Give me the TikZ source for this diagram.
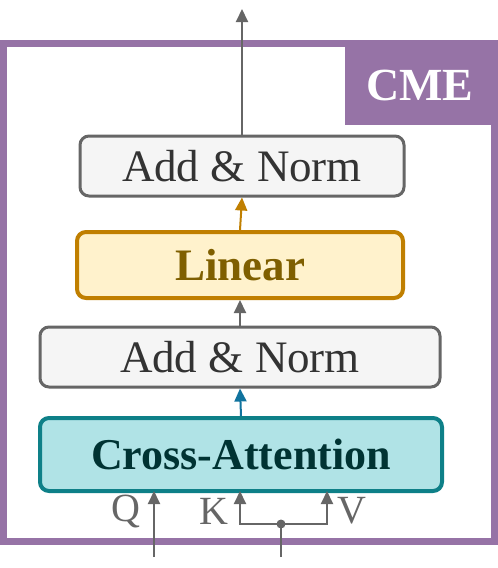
\documentclass[tikz,border=0pt]{standalone}
\usepackage{fontspec}
\setmainfont{Liberation Serif}
\usetikzlibrary{arrows.meta}
\definecolor{cmepurple}{HTML}{9673A6}
\definecolor{graybd}{HTML}{666666}
\definecolor{grayfill}{HTML}{F5F5F5}
\definecolor{yelfill}{HTML}{FFF2CC}
\definecolor{yelbd}{HTML}{C07F00}
\definecolor{yeltxt}{HTML}{7F5F00}
\definecolor{tealfill}{HTML}{B0E3E6}
\definecolor{tealbd}{HTML}{0E8088}
\definecolor{tealtxt}{HTML}{003333}
\definecolor{bluearr}{HTML}{10739E}
\definecolor{txtdark}{HTML}{333333}
\begin{document}
\begin{tikzpicture}[x=1pt,y=-1pt,
  blk/.style={rounded corners=9pt, inner sep=0pt, font=\fontsize{45}{50}\selectfont},
  graybox/.style={blk, draw=graybd, fill=grayfill, line width=3pt, text=txtdark},
  arr/.style={line width=2pt, -{Triangle[width=12pt,length=13pt]}},
  lbl/.style={text=graybd, font=\fontsize{40}{44}\selectfont, inner sep=0pt}]
\useasboundingbox (0,0) rectangle (498,568);
% outer frame
\draw[cmepurple, line width=7pt] (3.5,43.5) rectangle (494.5,541.5);
\fill[cmepurple] (345,40) rectangle (498,125);
\node[text=white, font=\fontsize{46}{50}\selectfont\bfseries, inner sep=0pt] (cme) at (420,85) {CME};
% blocks
\node[graybox, minimum width=324pt, minimum height=60pt] (an2) at (242,166) {Add \& Norm};
\node[blk, draw=yelbd, fill=yelfill, line width=4pt, text=yeltxt, font=\fontsize{45}{50}\selectfont\bfseries, minimum width=326pt, minimum height=66pt] (lin) at (240,265) {Linear};
\node[graybox, minimum width=400pt, minimum height=60pt] (an1) at (240,357) {Add \& Norm};
\node[blk, draw=tealbd, fill=tealfill, line width=4pt, text=tealtxt, font=\fontsize{44}{50}\selectfont\bfseries, minimum width=402pt, minimum height=73pt] (ca) at (241,454.5) {Cross-Attention};
% arrows between blocks
\coordinate (out) at (242,9);
\draw[arr, graybd] (an2.north) -- (out);
\draw[arr, yelbd] (lin.north) -- (an2.south);
\draw[arr, graybd] (an1.north) -- (lin.south);
\draw[arr, bluearr] (ca.north) -- (an1.south);
% inputs
\coordinate (qin) at (154,557);
\coordinate (qend) at (154,491);
\coordinate (kvin) at (281,557);
\coordinate (kend) at (240,491);
\coordinate (vend) at (327,491);
\coordinate (junc) at (281,524);
\draw[arr, graybd] (qin) -- (qend);
\draw[line width=2pt, graybd] (kvin) -- (junc);
\draw[arr, graybd] (junc) -| (kend);
\draw[arr, graybd] (junc) -| (vend);
\fill[graybd] (junc) circle (4.5pt);
\node[lbl] (q) at (126,511) {Q};
\node[lbl] (k) at (214,511) {K};
\node[lbl] (v) at (352,511) {V};
\end{tikzpicture}
\end{document}
